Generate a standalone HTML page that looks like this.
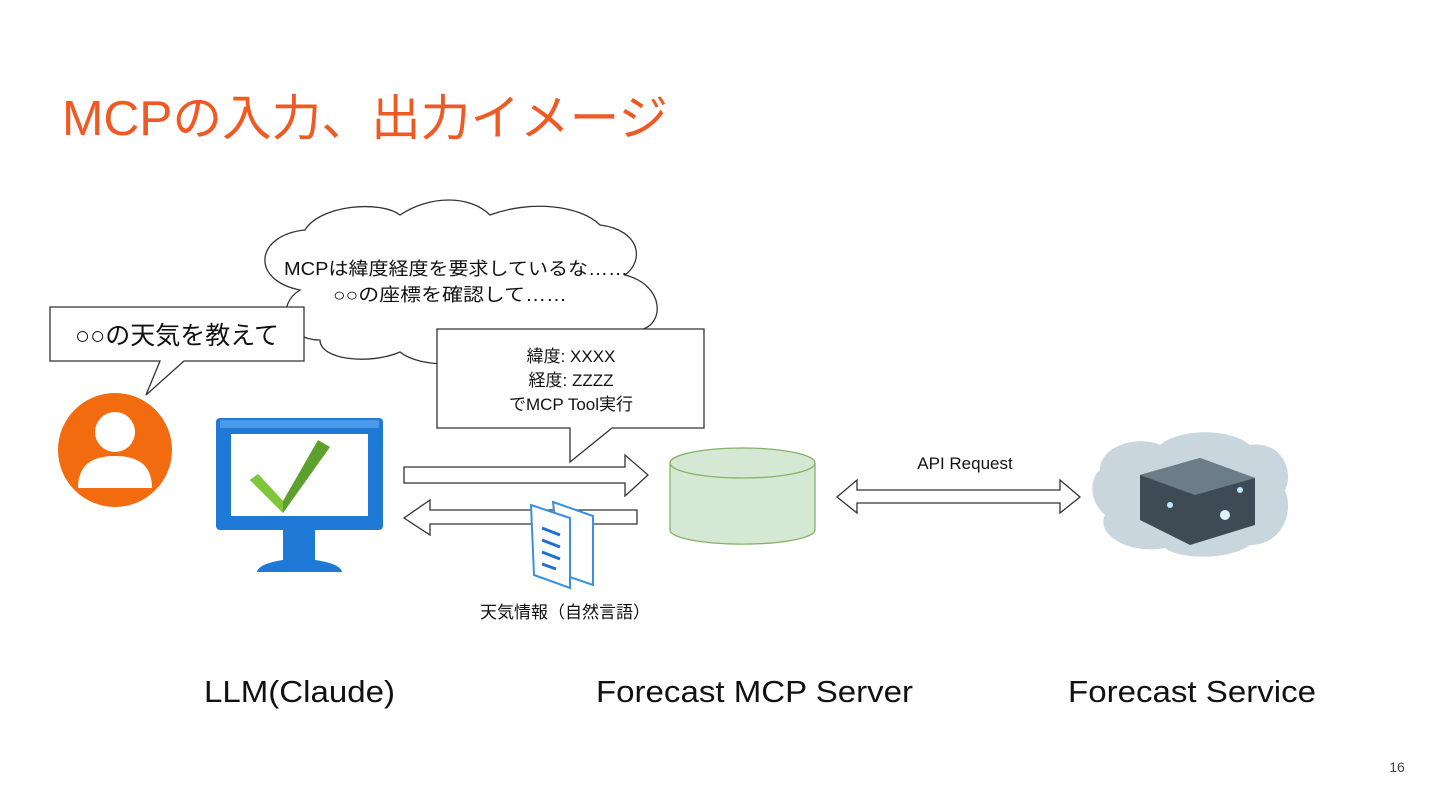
<!DOCTYPE html>
<html><head><meta charset="utf-8"><style>
html,body{margin:0;padding:0;background:#fff;}
svg{display:block;font-family:"Liberation Sans","Noto Sans CJK JP",sans-serif;}
</style></head><body>
<svg width="1440" height="810" viewBox="0 0 1440 810" xmlns="http://www.w3.org/2000/svg">
<text x="62" y="135" font-size="49" fill="#f05a22" textLength="606" lengthAdjust="spacingAndGlyphs">MCPの入力、出力イメージ</text>

<!-- thought cloud -->
<path d="M300,290 C250,280 255,235 305,230 C320,205 380,200 400,215 C430,195 470,195 490,215 C530,200 580,205 600,225 C640,230 645,260 625,275 C665,285 665,325 640,330 C640,350 610,360 585,350 C560,365 520,365 500,350 C470,368 420,368 400,352 C370,365 320,360 320,340 C285,340 275,305 300,290 Z" fill="#fff" stroke="#333" stroke-width="1.3"/>
<text x="456" y="275" font-size="18" text-anchor="middle" fill="#111" textLength="344" lengthAdjust="spacingAndGlyphs">MCPは緯度経度を要求しているな……</text>
<text x="450" y="301" font-size="18" text-anchor="middle" fill="#111" textLength="234" lengthAdjust="spacingAndGlyphs">○○の座標を確認して……</text>

<!-- speech box 1 -->
<path d="M50,307 H304 V361 H184 L146,395 L160,361 H50 Z" fill="#fff" stroke="#333" stroke-width="1.3"/>
<text x="177" y="344" font-size="25" text-anchor="middle" fill="#111">○○の天気を教えて</text>

<!-- speech box 2 -->
<path d="M437,329 H704 V428 H612 L570,462 L570,428 H437 Z" fill="#fff" stroke="#333" stroke-width="1.3"/>
<text x="571" y="362" font-size="17" text-anchor="middle" fill="#111">緯度: XXXX</text>
<text x="571" y="386" font-size="17" text-anchor="middle" fill="#111">経度: ZZZZ</text>
<text x="571" y="410" font-size="17" text-anchor="middle" fill="#111">でMCP Tool実行</text>

<!-- person -->
<circle cx="115" cy="450" r="57" fill="#f26b0f"/>
<circle cx="115" cy="432" r="20" fill="#fff"/>
<path d="M78,488 C78,465 92,456 115,456 C138,456 152,465 152,488 Z" fill="#fff"/>

<!-- monitor -->
<rect x="216" y="418" width="167" height="112" rx="4" fill="#1e7ad6"/>
<rect x="220" y="420" width="159" height="8" fill="#4b9ae8"/>
<rect x="231" y="434" width="137" height="82" fill="#fff"/>
<path d="M283,530 H315 V560 C330,562 341,566 342,572 H257 C258,566 269,562 283,560 Z" fill="#1e7ad6"/>
<path d="M258,474 L283,501 L318,440 L330,447 L283,513 L250,480 Z" fill="#5da12c"/>
<path d="M258,474 L283,501 L283,513 L250,480 Z" fill="#7ec63a"/>

<!-- right arrow -->
<path d="M404,467 H625 V455 L648,475 L625,496 V483 H404 Z" fill="#fff" stroke="#333" stroke-width="1.3"/>
<!-- left arrow -->
<path d="M637,510 H430 V500 L404,518 L430,535 V524 H637 Z" fill="#fff" stroke="#333" stroke-width="1.3"/>

<!-- document icon -->
<path d="M553,502 L593,516 V585 L561,574 Z" fill="#fff" stroke="#3a8fe0" stroke-width="2"/>
<path d="M531,505 L570,518 V588 L534,575 Z" fill="#fff" stroke="#3a8fe0" stroke-width="2"/>
<g stroke="#1e6fd0" stroke-width="3">
<line x1="542" y1="528" x2="560" y2="535"/><line x1="542" y1="540" x2="560" y2="547"/><line x1="542" y1="552" x2="560" y2="559"/><line x1="542" y1="564" x2="556" y2="569"/>
</g>
<text x="565" y="618" font-size="17" text-anchor="middle" fill="#111">天気情報（自然言語）</text>

<!-- cylinder -->
<path d="M670,463 V530 A72,14 0 0 0 815,530 V463" fill="#d5e8d4" stroke="#82b366" stroke-width="1.3"/>
<ellipse cx="742.5" cy="463" rx="72.5" ry="15" fill="#d5e8d4" stroke="#82b366" stroke-width="1.3"/>

<!-- double arrow -->
<path d="M837,497 L857,480 V490 H1060 V480 L1080,497 L1060,513 V503 H857 V513 Z" fill="#fff" stroke="#333" stroke-width="1.3"/>
<text x="965" y="469" font-size="17" text-anchor="middle" fill="#111">API Request</text>

<!-- cloud service -->
<path d="M1100,470 C1100,445 1140,435 1160,445 C1180,428 1230,428 1250,445 C1280,440 1295,470 1285,490 C1295,515 1280,545 1250,545 C1230,560 1180,560 1165,548 C1130,555 1095,535 1105,515 C1088,500 1090,478 1100,470 Z" fill="#c9d6de"/>
<path d="M1140,475 L1200,458 L1255,478 L1255,525 L1190,545 L1140,520 Z" fill="#3e4b55"/>
<path d="M1140,475 L1200,458 L1255,478 L1195,495 Z" fill="#6d7d88"/>
<circle cx="1225" cy="515" r="5" fill="#dff3ff"/><circle cx="1170" cy="505" r="3" fill="#bfe8ff"/><circle cx="1240" cy="490" r="3" fill="#bfe8ff"/>

<!-- bottom labels -->
<text x="204" y="702" font-size="31" fill="#111" textLength="191" lengthAdjust="spacingAndGlyphs">LLM(Claude)</text>
<text x="596" y="702" font-size="31" fill="#111" textLength="317" lengthAdjust="spacingAndGlyphs">Forecast MCP Server</text>
<text x="1068" y="702" font-size="31" fill="#111" textLength="248" lengthAdjust="spacingAndGlyphs">Forecast Service</text>
<text x="1397" y="772" font-size="14" text-anchor="middle" fill="#444">16</text>
</svg>
</body></html>
